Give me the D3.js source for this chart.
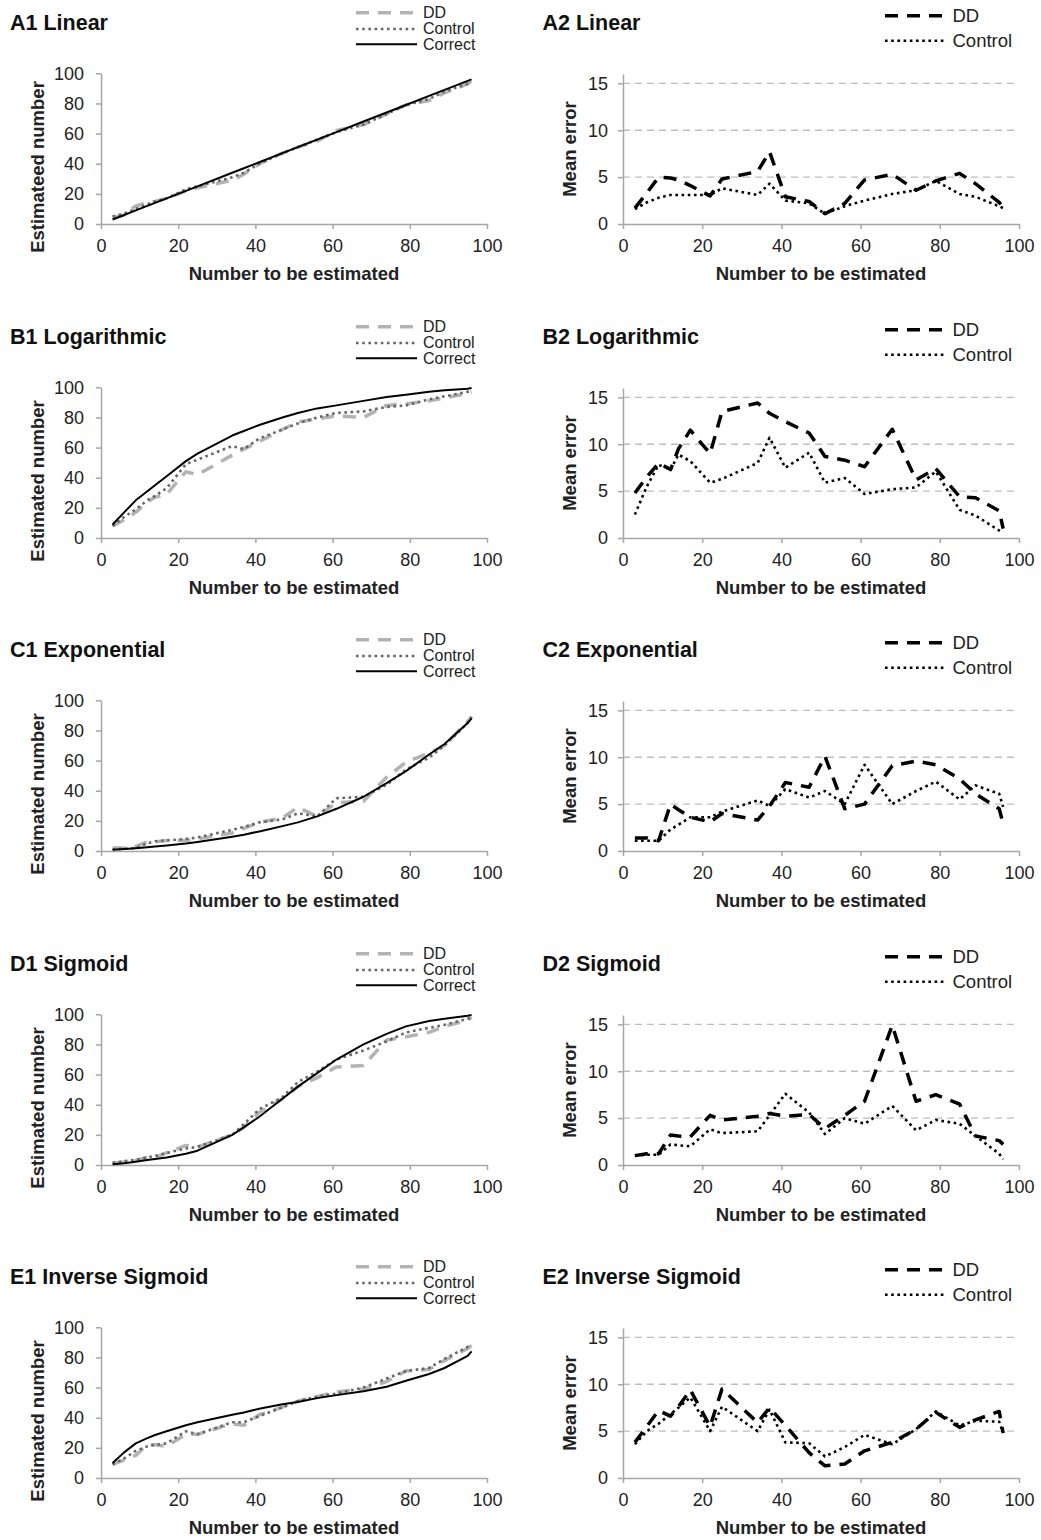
<!DOCTYPE html>
<html><head><meta charset="utf-8">
<script src="https://cdn.jsdelivr.net/npm/d3@7"></script>
<style>
body{margin:0;background:#fff}
svg{display:block}
text{font-family:"Liberation Sans",Arial,Helvetica,sans-serif}
</style>
</head><body>
<svg id="chart" width="1041" height="1540"></svg>
<script>
// ---------- DATA ----------
const numbers = [3, 6, 9, 12, 14, 17, 22, 25, 34, 37, 41, 47, 51, 56, 61, 68, 74, 79, 85, 89, 95, 96];
const xTicks = [0, 20, 40, 60, 80, 100];
const estTicks = [0, 20, 40, 60, 80, 100];
const errTicks = [0, 5, 10, 15];

const titlesLeft = ["A1 Linear", "B1 Logarithmic", "C1 Exponential", "D1 Sigmoid", "E1 Inverse Sigmoid"];
const titlesRight = ["A2 Linear", "B2 Logarithmic", "C2 Exponential", "D2 Sigmoid", "E2 Inverse Sigmoid"];
const yLabelsLeft = ["Estimateed number", "Estimated number", "Estimated number", "Estimated number", "Estimated number"];
const legendLeft = ["DD", "Control", "Correct"];
const legendRight = ["DD", "Control"];

// Estimates (left panels)
const linCorrect = [3, 6, 9, 12, 14, 17, 22, 25, 34, 37, 41, 47, 51, 56, 61, 68, 74, 79, 85, 89, 95, 96];
const linDD      = [4, 6, 12, 14, 15, 17, 22, 24, 29, 33, 40, 47, 51, 55, 62, 66, 73, 79, 82, 87, 93, 95];
const linControl = [5, 7, 10, 13, 15, 17, 23, 25, 31, 34, 40, 47, 51, 56, 61, 66, 73, 79, 83, 88, 93, 94];

const logCorrect = [9, 17, 25, 31, 35, 41, 51, 56, 68, 71, 75, 80, 83, 86, 88, 91, 93.5, 95, 97, 98, 99, 99.5];
const logDD      = [8, 12, 17, 24, 27, 29, 44, 42, 55, 59, 64, 72, 77, 79, 81, 80, 88, 89, 91, 93, 96, 97];
const logControl = [8, 14, 19, 25, 28, 33, 49, 52, 61, 59, 66, 72, 76, 80, 83, 84, 87, 88, 92, 94, 97, 98];

const expCorrect = [0.8, 1.3, 1.9, 2.5, 3, 3.7, 5, 6, 9.5, 10.8, 13, 16.5, 19, 23, 28, 36, 45, 53, 64, 71, 85, 88];
const expDD      = [2, 2, 3, 6, 6, 7, 7, 8, 12, 15, 19, 22, 29, 23, 32, 33, 49, 59, 65, 70, 86, 89];
const expControl = [1, 1.5, 2, 5, 6.5, 7, 8, 9, 14, 16, 19, 21, 25, 23, 35, 36, 44, 54, 62, 70, 85, 89];

const sigCorrect = [0.5, 1.2, 2.2, 3.3, 4, 5, 7.5, 9.5, 20, 25, 32, 44, 52, 61, 70, 80, 87, 92, 95.5, 97, 99, 99.5];
const sigDD      = [1, 2, 3, 5, 5, 8, 13, 12, 20, 25, 35, 44, 52, 58, 65, 66, 83, 85, 88, 92, 96, 98];
const sigControl = [1.5, 2.5, 3.5, 5, 6, 8, 11, 12, 20, 27, 37, 45, 55, 62, 70, 76, 82, 88, 91, 93, 97, 98];

const invCorrect = [10, 17, 23, 26.5, 28.5, 31, 35, 37, 42, 43.5, 46, 49, 50.5, 53, 55, 57.5, 60.5, 64.5, 69, 73, 81, 84];
const invDD      = [9, 12, 15, 22, 22, 21, 29, 29, 36, 35, 42, 47, 51, 54, 57, 59, 64, 71, 72, 78, 86, 88];
const invControl = [9, 13, 18, 21, 22, 23, 31, 29, 37, 37, 41, 47, 51, 54, 56, 60, 66, 71, 73, 79, 87, 88];

// Mean errors (right panels)
const linErrDD      = [1.7, 3.3, 5.0, 4.9, 4.7, 4.1, 3.0, 4.8, 5.6, 7.7, 2.9, 2.4, 1.1, 2.2, 4.7, 5.3, 3.6, 4.6, 5.4, 4.3, 2.3, 1.8];
const linErrControl = [1.6, 2.3, 2.8, 3.1, 3.1, 3.1, 3.1, 3.8, 3.1, 4.3, 2.5, 2.2, 1.1, 1.9, 2.5, 3.2, 3.6, 4.6, 3.2, 2.9, 1.9, 1.7];
const logErrDD      = [4.8, 6.5, 8.0, 7.3, 9.5, 11.5, 9.0, 13.5, 14.4, 13.3, 12.4, 11.2, 8.7, 8.3, 7.6, 11.6, 6.2, 7.4, 4.4, 4.3, 2.9, 1.0];
const logErrControl = [2.5, 5.5, 7.8, 7.3, 8.9, 8.2, 5.9, 6.3, 8.0, 10.7, 7.5, 9.1, 5.9, 6.4, 4.7, 5.2, 5.4, 7.1, 3.0, 2.4, 0.8, 0.6];
const expErrDD      = [1.4, 1.4, 1.1, 5.0, 4.4, 3.6, 3.1, 4.0, 3.3, 4.8, 7.3, 6.8, 10.1, 4.5, 5.0, 9.1, 9.6, 9.2, 7.7, 6.1, 4.5, 2.9];
const expErrControl = [1.1, 1.1, 1.1, 2.3, 2.8, 3.6, 3.6, 4.2, 5.4, 4.8, 6.6, 5.7, 6.4, 5.0, 9.2, 5.0, 6.4, 7.4, 5.5, 7.0, 6.1, 4.7];
const sigErrDD      = [1.0, 1.2, 1.2, 3.2, 3.1, 3.0, 5.3, 4.8, 5.2, 5.5, 5.2, 5.4, 3.9, 5.3, 6.8, 14.9, 6.8, 7.5, 6.5, 3.1, 2.6, 2.2];
const sigErrControl = [1.0, 1.1, 1.1, 2.2, 2.1, 2.0, 3.8, 3.4, 3.6, 5.3, 7.6, 5.6, 3.3, 5.0, 4.4, 6.3, 3.7, 4.8, 4.4, 3.1, 1.2, 0.6];
const invErrDD      = [3.8, 5.5, 7.2, 6.6, 7.6, 9.4, 5.5, 9.5, 5.9, 7.5, 5.6, 2.7, 1.3, 1.5, 2.9, 3.8, 5.2, 7.0, 5.4, 6.2, 7.1, 4.8];
const invErrControl = [3.6, 5.0, 5.8, 6.8, 7.5, 8.6, 5.0, 7.6, 5.0, 7.3, 3.8, 3.7, 2.3, 3.3, 4.6, 3.6, 5.2, 7.1, 5.6, 6.1, 6.0, 4.8];

const estSeries = [
  [linDD, linControl, linCorrect],
  [logDD, logControl, logCorrect],
  [expDD, expControl, expCorrect],
  [sigDD, sigControl, sigCorrect],
  [invDD, invControl, invCorrect]
];
const errSeries = [
  [linErrDD, linErrControl],
  [logErrDD, logErrControl],
  [expErrDD, expErrControl],
  [sigErrDD, sigErrControl],
  [invErrDD, invErrControl]
];

// ---------- LAYOUT / STYLE ----------
const rowOffsets = [0, 314, 627, 941, 1254];
const AXIS = "#a6a6a6", TXT = "#222";
const leftStyles = [
  {stroke: "#b3b3b3", width: 3.5, dash: "13,9"},
  {stroke: "#666666", width: 2.6, dash: "2.6,3.6"},
  {stroke: "#000000", width: 2.0, dash: null}
];
const rightStyles = [
  {stroke: "#000000", width: 3.5, dash: "13,9"},
  {stroke: "#000000", width: 2.6, dash: "2.6,3.6"}
];

const svg = d3.select("#chart");

function styleAxis(g) {
  g.attr("font-family", null).attr("font-size", null);
  g.selectAll("path, line").attr("stroke", AXIS).attr("stroke-width", 1.5);
  g.selectAll("text").attr("fill", TXT).style("font-size", "18px");
}

function applyStyle(sel, s) {
  sel.attr("fill", "none").attr("stroke", s.stroke).attr("stroke-width", s.width)
     .attr("stroke-linejoin", "round");
  if (s.dash) sel.attr("stroke-dasharray", s.dash);
}

rowOffsets.forEach((off, r) => {
  // ===== Left panel =====
  const gL = svg.append("g").attr("transform", `translate(0,${off})`);
  const xL = d3.scaleLinear().domain([0, 100]).range([101, 487]);
  const yL = d3.scaleLinear().domain([0, 100]).range([224, 73.3]);

  gL.append("text").attr("x", 10).attr("y", 30).attr("font-weight", "bold")
    .style("font-size", "21.5px").attr("fill", "#111").text(titlesLeft[r]);

  // legend
  legendLeft.forEach((lab, i) => {
    const ly = [12.7, 29, 44.3][i];
    const ln = gL.append("line").attr("x1", 356).attr("x2", 417).attr("y1", ly).attr("y2", ly);
    applyStyle(ln, leftStyles[i]);
    gL.append("text").attr("x", 423).attr("y", ly + 5.3).style("font-size", "16px")
      .attr("fill", TXT).text(lab);
  });

  gL.append("g").attr("transform", "translate(0,224)")
    .call(d3.axisBottom(xL).tickValues(xTicks).tickSize(5).tickSizeOuter(0).tickPadding(10))
    .call(styleAxis);
  gL.append("g").attr("transform", "translate(101,0)")
    .call(d3.axisLeft(yL).tickValues(estTicks).tickSize(5).tickSizeOuter(0).tickPadding(12))
    .call(styleAxis);

  const lineL = d3.line().x((d, i) => xL(numbers[i])).y(d => yL(d));
  estSeries[r].forEach((ser, i) => {
    applyStyle(gL.append("path").attr("d", lineL(ser)), leftStyles[i]);
  });

  gL.append("text").attr("x", 294).attr("y", 280).attr("text-anchor", "middle")
    .attr("font-weight", "bold").style("font-size", "18.5px").attr("fill", TXT)
    .text("Number to be estimated");
  gL.append("text").attr("transform", "translate(43.5,167) rotate(-90)").attr("text-anchor", "middle")
    .attr("font-weight", "bold").style("font-size", "18.5px").attr("fill", TXT)
    .text(yLabelsLeft[r]);

  // ===== Right panel =====
  const gR = svg.append("g").attr("transform", `translate(0,${off})`);
  const xR = d3.scaleLinear().domain([0, 100]).range([623, 1019]);
  const yR = d3.scaleLinear().domain([0, 16]).range([224, 74]);

  gR.append("text").attr("x", 542.5).attr("y", 30).attr("font-weight", "bold")
    .style("font-size", "21.5px").attr("fill", "#111").text(titlesRight[r]);

  legendRight.forEach((lab, i) => {
    const ly = [15.7, 40.7][i];
    const ln = gR.append("line").attr("x1", 885).attr("x2", 944).attr("y1", ly).attr("y2", ly);
    applyStyle(ln, rightStyles[i]);
    gR.append("text").attr("x", 952.5).attr("y", ly + 6.3).style("font-size", "18.5px")
      .attr("fill", TXT).text(lab);
  });

  // gridlines
  gR.selectAll("line.grid").data(errTicks.filter(t => t > 0)).enter().append("line")
    .attr("class", "grid").attr("x1", 623).attr("x2", 1019)
    .attr("y1", d => yR(d)).attr("y2", d => yR(d))
    .attr("stroke", "#bdbdbd").attr("stroke-width", 1.3).attr("stroke-dasharray", "7,5");

  gR.append("g").attr("transform", "translate(0,224)")
    .call(d3.axisBottom(xR).tickValues(xTicks).tickSize(5).tickSizeOuter(0).tickPadding(10))
    .call(styleAxis);
  gR.append("g").attr("transform", "translate(623,0)")
    .call(d3.axisLeft(yR).tickValues(errTicks).tickSize(5).tickSizeOuter(0).tickPadding(10))
    .call(styleAxis);

  const lineR = d3.line().x((d, i) => xR(numbers[i])).y(d => yR(d));
  errSeries[r].forEach((ser, i) => {
    applyStyle(gR.append("path").attr("d", lineR(ser)), rightStyles[i]);
  });

  gR.append("text").attr("x", 821).attr("y", 280).attr("text-anchor", "middle")
    .attr("font-weight", "bold").style("font-size", "18.5px").attr("fill", TXT)
    .text("Number to be estimated");
  gR.append("text").attr("transform", "translate(576,149) rotate(-90)").attr("text-anchor", "middle")
    .attr("font-weight", "bold").style("font-size", "18.5px").attr("fill", TXT)
    .text("Mean error");
});
</script>
</body></html>
